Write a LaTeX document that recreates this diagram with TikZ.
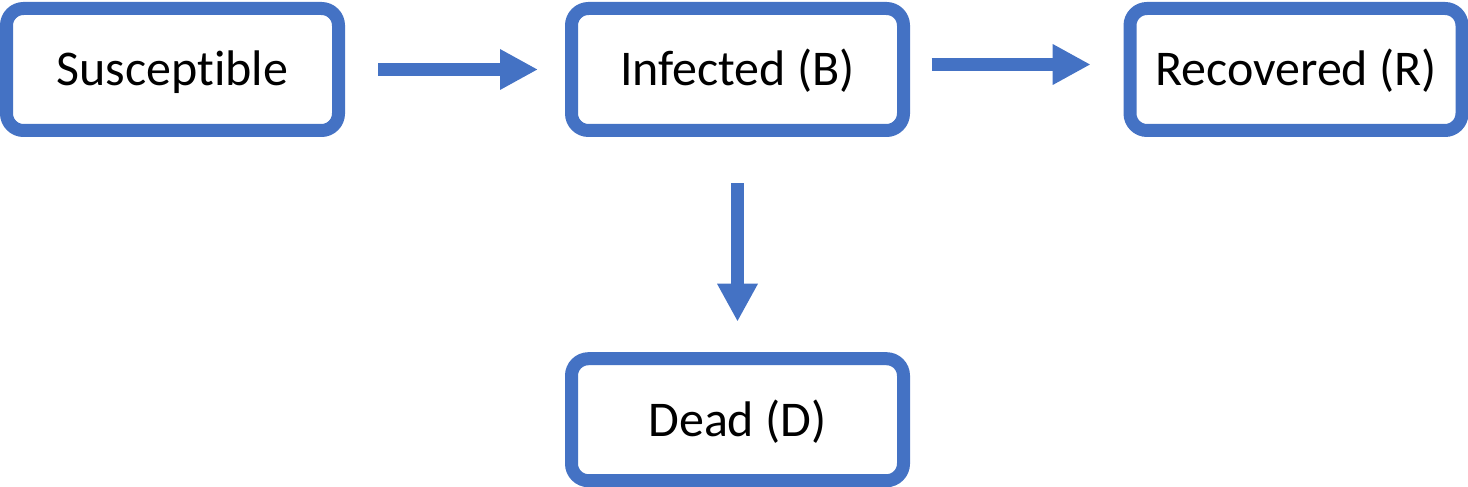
\documentclass[tikz,border=0pt]{standalone}
\usepackage{fontspec}
\setmainfont{Carlito}[Ligatures=NoCommon]
\usetikzlibrary{arrows.meta}
\definecolor{boxblue}{HTML}{4472C4}
\begin{document}
\begin{tikzpicture}[x=1pt,y=1pt,
  statebox/.style={draw=boxblue, line width=13pt, rounded corners=17pt, fill=white,
    minimum width=332pt, minimum height=122pt, inner sep=0pt,
    font=\fontsize{50}{58}\selectfont, text height=33pt, text depth=0pt},
  flow/.style={draw=boxblue, line width=13pt, -{Triangle[width=38pt,length=38pt]}}]
\useasboundingbox (0,0) rectangle (1468,487);
\node[statebox] (S) at (172.5,417.5) {Susceptible};
\node[statebox] (I) at (737.5,417.5) {Infected (B)};
\node[statebox] (R) at (1296,417.5) {Recovered (R)};
\node[statebox] (D) at (737.5,67.3) {Dead (D)};
\draw[flow, shorten <=33pt, shorten >=27pt] (S.east) -- (I.west);
\draw[flow, shorten <=21.7pt, shorten >=32.8pt] ([yshift=5pt]I.east) -- ([yshift=5pt]R.west);
\draw[flow, shorten <=46.3pt, shorten >=30.5pt] (I.south) -- (D.north);
\end{tikzpicture}
\end{document}
